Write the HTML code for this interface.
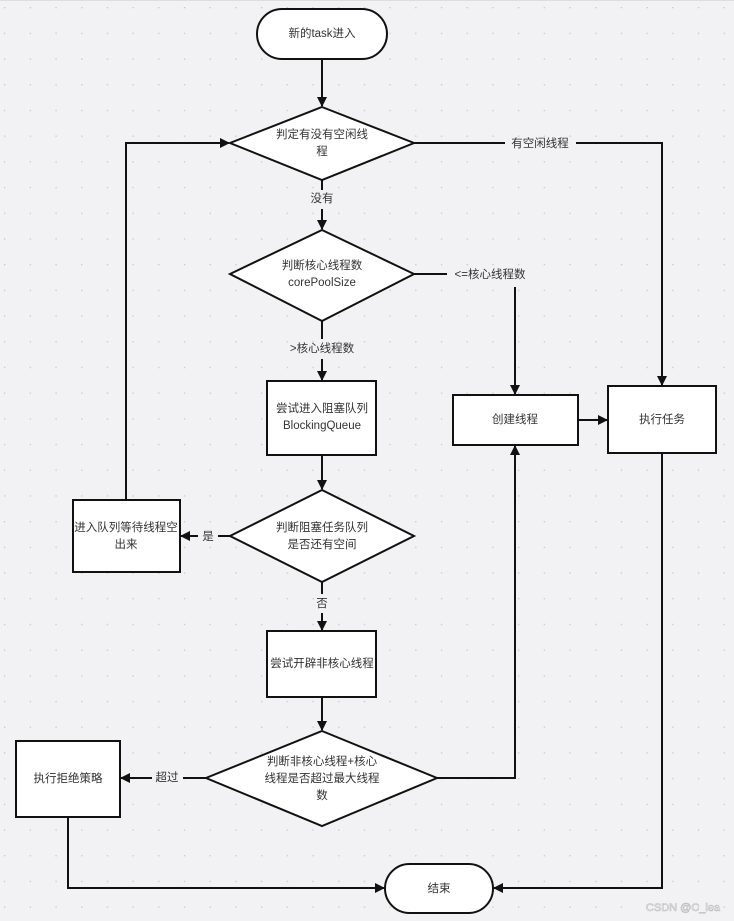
<!DOCTYPE html>
<html><head><meta charset="utf-8"><style>
html,body{margin:0;padding:0;background:#f2f2f4;}
svg{display:block;}
text{font-family:"Liberation Sans","Noto Sans CJK SC",sans-serif;font-size:11.5px;fill:#333;text-anchor:middle;dominant-baseline:middle;}
</style></head><body>
<svg width="734" height="921" viewBox="0 0 734 921" xmlns="http://www.w3.org/2000/svg">
<defs>
<pattern id="dots" width="25.7" height="25.7" patternUnits="userSpaceOnUse" x="4" y="7">
<rect x="0" y="0" width="1.3" height="1.3" fill="#c8c8cc"/>
</pattern>
<marker id="a" markerWidth="10" markerHeight="10" refX="9" refY="5" orient="auto" markerUnits="userSpaceOnUse">
<path d="M0,0 L10,5 L0,10 z" fill="#111"/>
</marker>
</defs>
<rect width="734" height="921" fill="#f2f2f4"/>
<rect width="734" height="921" fill="url(#dots)"/>
<line x1="0" y1="0.5" x2="734" y2="0.5" stroke="#ddd"/>
<g stroke="#111" stroke-width="2" fill="none">
<!-- start -> d1 -->
<line x1="322" y1="59" x2="322" y2="106" marker-end="url(#a)"/>
<!-- d1 -> 没有 -> d2 -->
<line x1="322" y1="180" x2="322" y2="190"/>
<line x1="322" y1="209" x2="322" y2="229" marker-end="url(#a)"/>
<!-- d2 -> box1 -->
<line x1="322" y1="321" x2="322" y2="339"/>
<line x1="322" y1="359" x2="322" y2="380" marker-end="url(#a)"/>
<!-- box1 -> d3 -->
<line x1="322" y1="455" x2="322" y2="489" marker-end="url(#a)"/>
<!-- d3 -> 否 -> box2 -->
<line x1="322" y1="582" x2="322" y2="594"/>
<line x1="322" y1="613" x2="322" y2="630" marker-end="url(#a)"/>
<!-- box2 -> d4 -->
<line x1="322" y1="697" x2="322" y2="730" marker-end="url(#a)"/>
<!-- d3 -> 是 -> wait box -->
<line x1="230" y1="536" x2="218" y2="536"/>
<line x1="198" y1="536" x2="181" y2="536" marker-end="url(#a)"/>
<!-- wait box -> d1 -->
<polyline points="126,500 126,143 229,143" marker-end="url(#a)"/>
<!-- d4 -> 超过 -> reject -->
<line x1="206" y1="778" x2="183" y2="778"/>
<line x1="152" y1="778" x2="121" y2="778" marker-end="url(#a)"/>
<!-- reject -> end -->
<polyline points="68,817 68,888 384,888" marker-end="url(#a)"/>
<!-- d4 -> create -->
<polyline points="437,778 515,778 515,446" marker-end="url(#a)"/>
<!-- d2 -> <= -> create -->
<line x1="414" y1="274" x2="447" y2="274"/>
<polyline points="515,287 515,394" marker-end="url(#a)"/>
<!-- create -> exec -->
<line x1="578" y1="420" x2="607" y2="420" marker-end="url(#a)"/>
<!-- d1 -> 有空闲 -> exec -->
<line x1="414" y1="143" x2="505" y2="143"/>
<polyline points="576,143 662,143 662,385" marker-end="url(#a)"/>
<!-- exec -> end -->
<polyline points="662,453 662,888 494,888" marker-end="url(#a)"/>
</g>
<g stroke="#111" stroke-width="2" fill="#fff">
<rect x="257" y="9" width="130" height="50" rx="25"/>
<polygon points="322,107 414,143 322,180 230,143"/>
<polygon points="322,230 414,274 322,321 230,274"/>
<rect x="267" y="381" width="109" height="74"/>
<polygon points="322,490 414,536 322,582 230,536"/>
<rect x="73" y="500" width="107" height="72"/>
<rect x="267" y="631" width="109" height="66"/>
<polygon points="322,731 437,778 322,826 206,778"/>
<rect x="16" y="741" width="104" height="76"/>
<rect x="453" y="395" width="125" height="50"/>
<rect x="608" y="386" width="108" height="67"/>
<rect x="385" y="864" width="108" height="49" rx="24.5"/>
</g>
<text x="322" y="34">新的task进入</text>
<text x="322" y="135">判定有没有空闲线</text>
<text x="322" y="152">程</text>
<text x="322" y="199">没有</text>
<text x="322" y="266">判断核心线程数</text>
<text x="322" y="283">corePoolSize</text>
<text x="322" y="349">&gt;核心线程数</text>
<text x="322" y="409">尝试进入阻塞队列</text>
<text x="322" y="426">BlockingQueue</text>
<text x="322" y="528">判断阻塞任务队列</text>
<text x="322" y="545">是否还有空间</text>
<text x="208" y="537">是</text>
<text x="126" y="528">进入队列等待线程空</text>
<text x="126" y="545">出来</text>
<text x="322" y="604">否</text>
<text x="322" y="664">尝试开辟非核心线程</text>
<text x="322" y="762">判断非核心线程+核心</text>
<text x="322" y="779">线程是否超过最大线程</text>
<text x="322" y="796">数</text>
<text x="167" y="778">超过</text>
<text x="68" y="779">执行拒绝策略</text>
<text x="490" y="275">&lt;=核心线程数</text>
<text x="515" y="420">创建线程</text>
<text x="540" y="144">有空闲线程</text>
<text x="662" y="420">执行任务</text>
<text x="439" y="889">结束</text>
<text x="683" y="908" style="fill:#fff;stroke:#bbb;stroke-width:0.6;font-size:11px">CSDN @C_lea</text>
</svg>
</body></html>
